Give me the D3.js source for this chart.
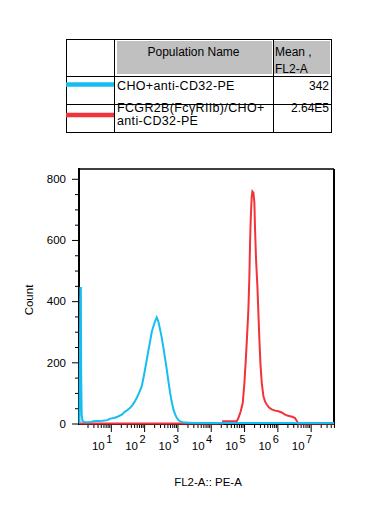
<!DOCTYPE html>
<html><head><meta charset="utf-8">
<script src="https://cdn.jsdelivr.net/npm/d3@7"></script>
<style>body{margin:0;background:#fff}svg{display:block;font-family:"Liberation Sans",Arial,sans-serif}</style>
</head><body><svg id="c" width="379" height="516"></svg>
<script>
// ---- data (log10 of FL2-A value, count) ----
const blueLog=[0.06,0.085,0.1,0.11,0.125,0.15,0.2,0.3,0.4,0.47,0.6,0.75,0.9,0.98,1.1,1.2,1.33,1.42,1.5,1.58,1.65,1.72,1.78,1.85,1.93,2.0,2.08,2.13,2.18,2.23,2.28,2.33,2.38,2.43,2.48,2.53,2.58,2.63,2.68,2.73,2.78,2.83,2.88,2.93,2.98,3.03,3.08,3.2,3.5,4,5,6,7,7.7];
const blueCount=[0,443,443,167,30,8,5,4,5,7,8,9,11,16,18,22,29,38,44,51,60,72,84,100,122,160,209,240,269,300,318,335,347,332,307,280,247,212,176,138,100,70,46,30,19,11,7,3,2,2,2,2,2,2];
const redLog=[0.05,4.36,4.37,4.78,4.83,4.9,4.96,5.01,5.05,5.09,5.13,5.16,5.18,5.2,5.23,5.25,5.28,5.31,5.33,5.36,5.4,5.43,5.46,5.49,5.53,5.58,5.63,5.68,5.75,5.83,5.93,6.03,6.13,6.23,6.3,6.38,6.45,6.53,6.59,6.62,7.7];
const redCount=[0,0,7,7,18,40,67,132,204,285,373,482,591,667,742,759,755,722,634,536,449,362,275,199,134,90,72,62,52,46,42,40,36,29,26,24,22,18,7,0,0];
const xDecades=[1,2,3,4,5,6,7];
const yTickValues=[0,200,400,600,800];
const popNames=["CHO+anti-CD32-PE","FCGR2B(FcγRIIb)/CHO+ anti-CD32-PE"];
const popMeans=["342","2.64E5"];
const popColors=["#16bdf0","#f2333a"];
const headers=["Population Name","Mean ,","FL2-A"];
const xTitle="FL2-A:: PE-A", yTitle="Count";

const svg=d3.select("#c");
const L=79,R=334,T=169,B=424;
const x=d3.scaleLog().domain([10**0.045,10**7.7]).range([L,R]);
const y=d3.scaleLinear().domain([0,832]).range([423.5,T]);

// ---- table ----
const tb=svg.append("g");
tb.append("rect").attr("x",117).attr("y",41).attr("width",155).attr("height",33).attr("fill","#c0c0c0");
tb.append("rect").attr("x",274).attr("y",41).attr("width",56).attr("height",33).attr("fill","#c0c0c0");
tb.append("rect").attr("x",66.5).attr("y",39.5).attr("width",265).attr("height",93).attr("fill","none").attr("stroke","#000");
[114.5,273.5].forEach(v=>tb.append("line").attr("x1",v).attr("x2",v).attr("y1",39.5).attr("y2",132.5).attr("stroke","#000"));
[76.5,104.5].forEach(v=>tb.append("line").attr("x1",66.5).attr("x2",331.5).attr("y1",v).attr("y2",v).attr("stroke","#000"));
tb.append("text").attr("x",193.5).attr("y",56).attr("text-anchor","middle").attr("font-size",12).text(headers[0]);
tb.append("text").attr("x",275).attr("y",56).attr("font-size",12).text(headers[1]);
tb.append("text").attr("x",275).attr("y",72.5).attr("font-size",12).text(headers[2]);
const rowY=[[90],[112,124.5]], lineY=[84.5,115];
popNames.forEach((nm,i)=>{
  tb.append("line").attr("x1",66).attr("x2",114).attr("y1",lineY[i]).attr("y2",lineY[i]).attr("stroke",popColors[i]).attr("stroke-width",4.5);
  const parts = i===0?[nm]:nm.split(" ");
  parts.forEach((p,j)=>{
    tb.append("text").attr("x",117).attr("y",rowY[i][j]).attr("font-size",12.5).attr("letter-spacing",0.35).text(p);
  });
  tb.append("text").attr("x",329).attr("y",rowY[i][0]).attr("text-anchor","end").attr("font-size",12).text(popMeans[i]);
});

// ---- curves ----
svg.append("clipPath").attr("id","clip").append("rect").attr("x",L-1).attr("y",T).attr("width",R-L+1).attr("height",B-T+1);
const line=d3.line().x(d=>x(10**d[0])).y(d=>y(d[1])).curve(d3.curveLinear);
const g=svg.append("g").attr("clip-path","url(#clip)");
g.append("path").datum(redLog.map((v,i)=>[v,redCount[i]])).attr("d",line).attr("fill","none").attr("stroke",popColors[1]).attr("stroke-width",2);
g.append("path").datum(blueLog.map((v,i)=>[v,blueCount[i]])).attr("d",line).attr("fill","none").attr("stroke",popColors[0]).attr("stroke-width",2);

// ---- axes ----
const minorX=[];
for(let d=0;d<=7;d++) for(let m=2;m<=9;m++){const v=m*10**d; if(v>=x.domain()[0]&&v<=x.domain()[1]) minorX.push(v);}
const majorX=xDecades.map(d=>10**d);
svg.append("g").attr("transform",`translate(0,${B})`).call(d3.axisBottom(x).tickValues(minorX).tickSize(4).tickFormat("")).call(a=>a.select(".domain").remove());
svg.append("g").attr("transform",`translate(0,${B})`).call(d3.axisBottom(x).tickValues(majorX).tickSize(8).tickFormat("")).call(a=>a.select(".domain").remove());
xDecades.forEach(d=>{
  const t=svg.append("text").attr("x",x(10**d)+1.5).attr("y",450).attr("text-anchor","end").attr("font-size",11.5);
  t.append("tspan").text("10");
  t.append("tspan").attr("dx",1.5).attr("dy",-7.5).attr("font-size",11).text(String(d));
});
const minorY=d3.range(0,833,50).filter(v=>v%200!==0);
svg.append("g").attr("transform",`translate(${L},0)`).call(d3.axisLeft(y).tickValues(minorY).tickSize(4).tickFormat("")).call(a=>a.select(".domain").remove());
svg.append("g").attr("transform",`translate(${L},0)`).call(d3.axisLeft(y).tickValues(yTickValues).tickSize(7).tickPadding(6).tickFormat(d3.format("d")))
  .call(a=>a.select(".domain").remove()).call(a=>a.selectAll("text").attr("font-size",11.5).attr("font-family","Liberation Sans, Arial, sans-serif").attr("fill","#000"));
// frame
svg.append("line").attr("x1",L).attr("x2",L).attr("y1",T-1).attr("y2",B+1).attr("stroke","#000").attr("stroke-width",2);
svg.append("line").attr("x1",L-1).attr("x2",R+1).attr("y1",B).attr("y2",B).attr("stroke","#000").attr("stroke-width",2);
svg.append("line").attr("x1",L).attr("x2",R).attr("y1",T).attr("y2",T).attr("stroke","#000").attr("stroke-width",1.5);
svg.append("line").attr("x1",R).attr("x2",R).attr("y1",T).attr("y2",B).attr("stroke","#000").attr("stroke-width",2);
g.raise();

svg.append("text").attr("x",208).attr("y",486).attr("text-anchor","middle").attr("font-size",11.5).text(xTitle);
svg.append("text").attr("transform","translate(33,300) rotate(-90)").attr("text-anchor","middle").attr("font-size",11.5).text(yTitle);
</script></body></html>
